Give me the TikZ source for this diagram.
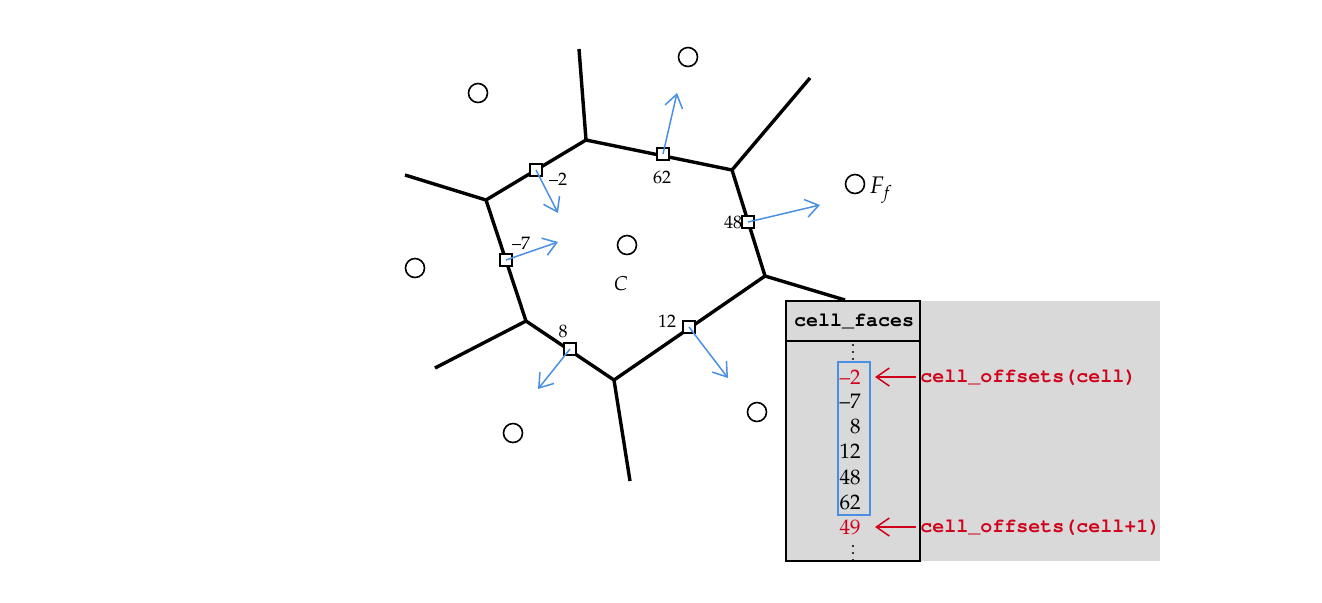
\documentclass[tikz,border=0pt]{standalone}
\usepackage[T1]{fontenc}
\usepackage{mathpazo}
\usepackage{courier}
\usepackage{tikz}
\usetikzlibrary{arrows.meta}
\definecolor{nblue}{HTML}{4A90E2}
\definecolor{ored}{HTML}{D0021B}
\definecolor{tgray}{HTML}{D9D9D9}

\begin{document}
\begin{tikzpicture}[x=0.5pt,y=-0.5pt,
	edge/.style={line width=1.7pt},
	face/.style={draw,fill=white,line width=0.7pt,minimum size=6pt,inner sep=0pt},
	site/.style={draw,circle,line width=0.8pt,minimum size=9.5pt,inner sep=0pt},
	normal/.style={nblue,line width=0.75pt,-{Straight Barb[length=6.5pt,width=9pt]}},
	offs/.style={ored,line width=0.75pt,-{Straight Barb[length=6.5pt,width=9pt]}},
	lbl/.style={inner sep=0pt,font=\small},
	entry/.style={anchor=east,inner sep=0pt,font=\fontsize{10.5}{12}\selectfont},
	code/.style={font=\ttfamily\bfseries}]
	\useasboundingbox (0,0) rectangle (1322,602);
	% cell vertices and outer ends
	\foreach \i/\x/\y/\ox/\oy in {1/486/200/405/175, 2/586/140/579/49, 3/732/170/810/78, 4/765/276/845/300, 5/614/380/630/481, 6/526/321/435/368}{
		\coordinate (v\i) at (\x,\y);
		\coordinate (o\i) at (\ox,\oy);
	}
	\draw[edge,line join=round] (v1) -- (v2) -- (v3) -- (v4) -- (v5) -- (v6) -- cycle;
	\foreach \i in {1,...,6}
	\draw[edge] (v\i) -- (o\i);
	% neighbouring sites
	\foreach \n/\x/\y in {a/478/93, b/688/57, c/855/184, d/415/268, e/627/245, f/513/433, g/757/412}
	\node[site] (s\n) at (\x,\y) {};
	\node[anchor=west,inner sep=0pt,font=\large] (Ff) at (869,190) {$F_f$};
	\node[inner sep=0pt] (Cc) at (621,284) {$C$};
	% faces with normals
	\foreach \n/\x/\y/\tx/\ty in {m2/536/170/558/213, 62/663/154/677/93, 48/748/222/820/205, 12/689/327/728/378, 8/570/349/538/389, m7/506/260/558/242}{
		\node[face] (f\n) at (\x,\y) {};
		\coordinate (t\n) at (\tx,\ty);
		\draw[normal] (f\n.center) -- (t\n);
	}
	\node[lbl] (lm2) at (558,179) {\textendash2};
	\node[lbl] (l62) at (662,177) {62};
	\node[lbl] (l48) at (733,222) {48};
	\node[lbl] (l12) at (667,321) {12};
	\node[lbl] (l8) at (563,331) {8};
	\node[lbl] (lm7) at (521,243) {\textendash7};
	% the array
	\fill[tgray] (786,301) rectangle (1160,561);
	\draw[line width=0.75pt] (786,301) rectangle (920,561);
	\draw[line width=0.75pt] (786,341) -- (920,341);
	\node[code] (hdr) at (854,322) {cell\_faces};
	\foreach \y in {345,352,359,546,553,560}
	\fill (853,\y) circle (1.1);
	\foreach \v/\y/\c in {\textendash2/377/ored, \textendash7/401/black, 8/426/black, 12/451/black, 48/477/black, 62/502/black, 49/527/ored}
	\node[entry,text=\c] (e\y) at (861,\y) {\v};
	\draw[nblue,line width=0.75pt] (838,362) rectangle (870,515);
	\coordinate (r1) at (916,377);
	\coordinate (r2) at (916,527);
	\draw[offs] (r1) -- ([xshift=7pt]e377.east);
	\draw[offs] (r2) -- ([xshift=7pt]e527.east);
	\node[code,text=ored,anchor=west,inner sep=0pt] (oc1) at (920,378) {cell\_offsets(cell)};
	\node[code,text=ored,anchor=west,inner sep=0pt] (oc2) at (920,528) {cell\_offsets(cell+1)};
\end{tikzpicture}
\end{document}
